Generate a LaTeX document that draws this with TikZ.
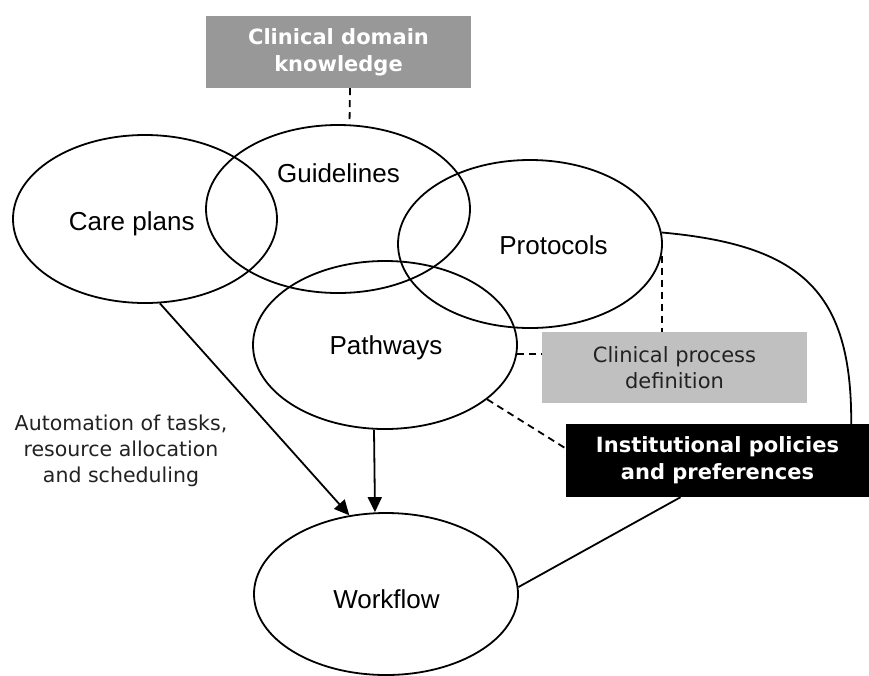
\documentclass[tikz,border=0pt]{standalone}
\usepackage{fontspec}
\setmainfont{Liberation Sans}
\newfontfamily\labelfont{DejaVu Sans}
\usetikzlibrary{shapes.geometric,arrows.meta}
\definecolor{domaingray}{HTML}{989898}
\definecolor{processgray}{HTML}{C0C0C0}
\definecolor{textgray}{HTML}{222222}
\begin{document}
\begin{tikzpicture}[x=1pt,y=-1pt,
  concept/.style={draw, ellipse, line width=1.8pt, minimum width=264pt, minimum height=168pt, inner sep=0pt},
  conceptlabel/.style={anchor=base, inner sep=0pt, font=\fontsize{26}{30}\selectfont},
  infobox/.style={rectangle, inner sep=0pt, align=center, font=\labelfont\fontsize{21}{26}\selectfont},
  boldbox/.style={infobox, font=\labelfont\bfseries\fontsize{21}{27}\selectfont, text=white},
  link/.style={line width=1.8pt},
  dashlink/.style={line width=1.8pt, dash pattern=on 7pt off 5pt},
  flow/.style={line width=1.8pt, -{Triangle[length=15pt,width=14pt]}}
]
\useasboundingbox (0,0) rectangle (869,675);

% overlapping concept ellipses
\node[concept] (cp) at (145,219) {};
\node[concept] (gl) at (338,209) {};
\node[concept] (pr) at (530,244) {};
\node[concept] (pw) at (385,345) {};
\node[concept, minimum height=162pt] (wf) at (386,594) {};

% ellipse captions
\node[conceptlabel] (cpt) at (131.7,230) {Care plans};
\node[conceptlabel] (glt) at (338.5,182) {Guidelines};
\node[conceptlabel] (prt) at (553.5,254) {Protocols};
\node[conceptlabel] (pwt) at (386,354) {Pathways};
\node[conceptlabel] (wft) at (386.5,608) {Workflow};

% information boxes
\node[boldbox, fill=domaingray, minimum width=265pt, minimum height=72pt] (cdk) at (338.5,52) {Clinical domain\\knowledge};
\node[infobox, fill=processgray, text=textgray, minimum width=265pt, minimum height=71pt] (cpd) at (674.5,367.5) {Clinical process\\definition};
\node[boldbox, fill=black, minimum width=303pt, minimum height=73pt] (ipp) at (717.5,460.5) {Institutional policies\\and preferences};

% side note
\node[align=center, inner sep=0pt, text=textgray, font=\labelfont\fontsize{20.5}{26}\selectfont] (auto) at (121,451) {Automation of tasks,\\resource allocation\\and scheduling};

% dashed associations
\draw[dashlink] ([xshift=11.5pt]cdk.south) -- ([xshift=11.5pt]gl.north);
\draw[dashlink] (pr.-5) -- (pr.-5 |- cpd.north);
\draw[dashlink] (pw.-4) -- (pw.-4 -| cpd.west);
\draw[dashlink] (pw.-28) -- ([yshift=12pt]ipp.west);

% solid links
\draw[link] (pr.5) .. controls (800,245) and (852,290) .. ([xshift=-18pt]ipp.north east);
\draw[link] ([xshift=-37pt]ipp.south) -- (wf.3);

% arrows into the workflow
\draw[flow] ([xshift=-11pt]pw.south) -- ([xshift=-11pt]wf.north);
\draw[flow] (cp.-80) -- (wf.115);
\end{tikzpicture}
\end{document}
